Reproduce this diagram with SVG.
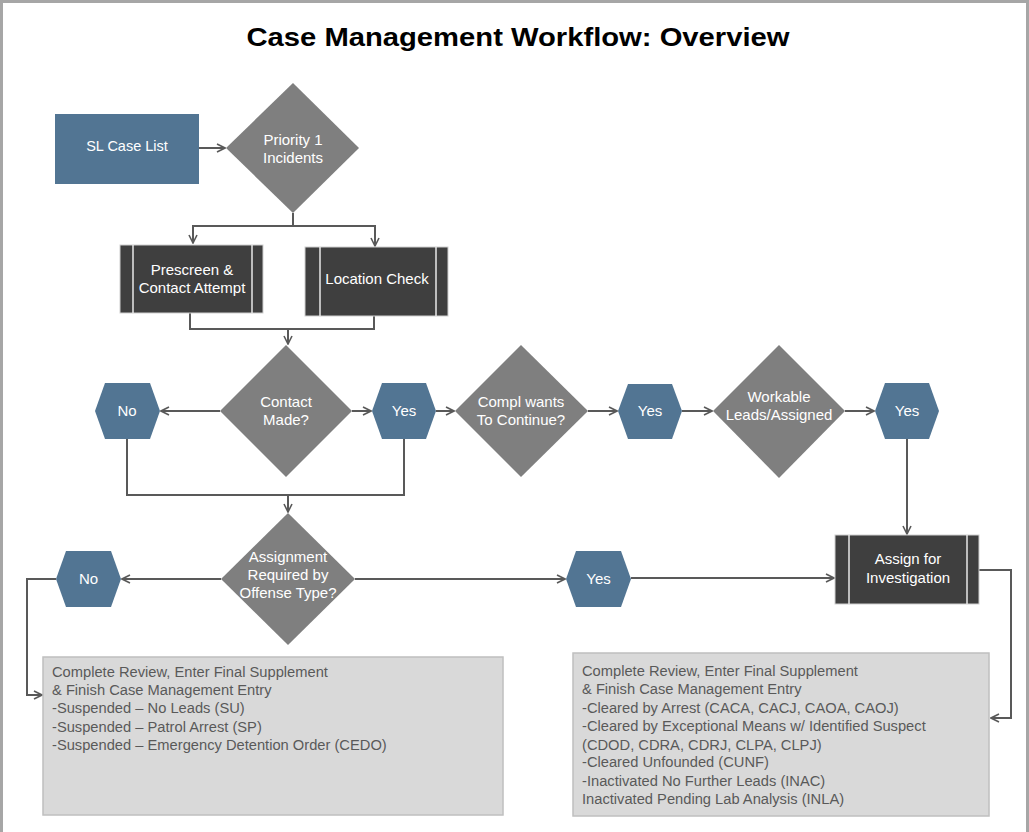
<svg xmlns="http://www.w3.org/2000/svg" width="1029" height="832" viewBox="0 0 1029 832">
<defs>
<marker id="arr" viewBox="0 0 10 10" refX="9" refY="5" markerWidth="10" markerHeight="10" markerUnits="userSpaceOnUse" orient="auto">
<polyline points="1,1 9,5 1,9" fill="none" stroke="#595959" stroke-width="1.6"/>
</marker>
<style>
.t{font-family:"Liberation Sans",Arial,sans-serif;font-size:15px;fill:#ffffff;text-anchor:middle}
.b{font-family:"Liberation Sans",Arial,sans-serif;font-size:14.7px;fill:#595959}
.blue{fill:#527593}
.dia{fill:#7f7f7f}
.sub{fill:#3f3f3f;stroke:#d0d0d0;stroke-width:1}
.sep{stroke:#e8e8e8;stroke-width:1.5}
.box{fill:#d9d9d9;stroke:#bfbfbf;stroke-width:1.5}
.c{fill:none;stroke:#595959;stroke-width:2}
</style>
</defs>
<rect width="1029" height="832" fill="#ffffff"/>
<path d="M1.5,832 V1.5 H1027.5 V832" fill="none" stroke="#a6a6a6" stroke-width="3"/>
<text x="518" y="46" font-family="'Liberation Sans',Arial,sans-serif" font-size="25" font-weight="bold" fill="#000000" text-anchor="middle" textLength="543" lengthAdjust="spacingAndGlyphs">Case Management Workflow: Overview</text>

<g id="connectors">
<line class="c" x1="199" y1="148" x2="225" y2="148" marker-end="url(#arr)"/>
<polyline class="c" points="293,213 293,226"/>
<polyline class="c" points="193,243 193,226 375,226 375,246" marker-end="url(#arr)"/>
<line class="c" x1="193" y1="226" x2="193" y2="243" marker-end="url(#arr)"/>
<polyline class="c" points="190,313 190,329 374,329 374,316"/>
<line class="c" x1="288" y1="329" x2="288" y2="344" marker-end="url(#arr)"/>
<line class="c" x1="220" y1="411" x2="161" y2="411" marker-end="url(#arr)"/>
<line class="c" x1="352" y1="411" x2="371" y2="411" marker-end="url(#arr)"/>
<line class="c" x1="436" y1="411" x2="454" y2="411" marker-end="url(#arr)"/>
<line class="c" x1="588" y1="411" x2="617" y2="411" marker-end="url(#arr)"/>
<line class="c" x1="682" y1="411" x2="712" y2="411" marker-end="url(#arr)"/>
<line class="c" x1="845" y1="411" x2="874" y2="411" marker-end="url(#arr)"/>
<polyline class="c" points="127,439 127,495 404,495 404,439"/>
<line class="c" x1="288" y1="495" x2="288" y2="512" marker-end="url(#arr)"/>
<line class="c" x1="221" y1="579" x2="122" y2="579" marker-end="url(#arr)"/>
<polyline class="c" points="56,579 27,579 27,695 42,695" marker-end="url(#arr)"/>
<line class="c" x1="355" y1="579" x2="565" y2="579" marker-end="url(#arr)"/>
<line class="c" x1="631" y1="578" x2="834" y2="578" marker-end="url(#arr)"/>
<line class="c" x1="907" y1="439" x2="907" y2="534" marker-end="url(#arr)"/>
<polyline class="c" points="979,570 1011,570 1011,718 991,718" marker-end="url(#arr)"/>
</g>

<g id="sl-case-list">
<rect class="blue" x="55" y="114" width="144" height="70"/>
<text class="t" x="127" y="151" style="font-size:14.5px">SL Case List</text>
</g>

<g id="priority1">
<polygon class="dia" points="293,83 359,148 293,213 226,148"/>
<text class="t" x="293" y="145">Priority 1</text>
<text class="t" x="293" y="163">Incidents</text>
</g>

<g id="prescreen">
<rect class="sub" x="120" y="245" width="143" height="68"/>
<line class="sep" x1="133" y1="245" x2="133" y2="313"/>
<line class="sep" x1="252" y1="245" x2="252" y2="313"/>
<text class="t" x="192" y="275">Prescreen &amp;</text>
<text class="t" x="192" y="293">Contact Attempt</text>
</g>

<g id="location-check">
<rect class="sub" x="305" y="247" width="143" height="69"/>
<line class="sep" x1="320" y1="247" x2="320" y2="316"/>
<line class="sep" x1="436" y1="247" x2="436" y2="316"/>
<text class="t" x="377" y="284">Location Check</text>
</g>

<g id="contact-made">
<polygon class="dia" points="286,345 352,411 286,477 220,411"/>
<text class="t" x="286" y="407">Contact</text>
<text class="t" x="286" y="425">Made?</text>
</g>

<g id="no1">
<polygon class="blue" points="95,411 105,383 150,383 160,411 150,439 105,439"/>
<text class="t" x="127" y="416">No</text>
</g>

<g id="yes1">
<polygon class="blue" points="372,411 382,383 426,383 436,411 426,439 382,439"/>
<text class="t" x="404" y="416">Yes</text>
</g>

<g id="compl-wants">
<polygon class="dia" points="521,345 588,411 521,477 455,411"/>
<text class="t" x="521" y="407">Compl wants</text>
<text class="t" x="521" y="425">To Continue?</text>
</g>

<g id="yes2">
<polygon class="blue" points="618,411 628,384 672,384 682,411 672,439 628,439"/>
<text class="t" x="650" y="416">Yes</text>
</g>

<g id="workable-leads">
<polygon class="dia" points="779,345 845,411 779,478 713,411"/>
<text class="t" x="779" y="402">Workable</text>
<text class="t" x="779" y="420">Leads/Assigned</text>
</g>

<g id="yes3">
<polygon class="blue" points="875,411 885,383 929,383 939,411 929,439 885,439"/>
<text class="t" x="907" y="416">Yes</text>
</g>

<g id="assignment-required">
<polygon class="dia" points="288,513 355,579 288,645 221,579"/>
<text class="t" x="288" y="562">Assignment</text>
<text class="t" x="288" y="580">Required by</text>
<text class="t" x="288" y="598">Offense Type?</text>
</g>

<g id="no2">
<polygon class="blue" points="56,579 66,551 111,551 121,579 111,607 66,607"/>
<text class="t" x="88.5" y="584">No</text>
</g>

<g id="yes4">
<polygon class="blue" points="566,579 576,551 621,551 631,579 621,607 576,607"/>
<text class="t" x="598.5" y="584">Yes</text>
</g>

<g id="assign-investigation">
<rect class="sub" x="835" y="535" width="144" height="69"/>
<line class="sep" x1="849" y1="535" x2="849" y2="604"/>
<line class="sep" x1="967" y1="535" x2="967" y2="604"/>
<text class="t" x="908" y="564">Assign for</text>
<text class="t" x="908" y="583">Investigation</text>
</g>

<g id="suspended-box">
<rect class="box" x="43" y="657" width="460" height="158"/>
<text class="b" x="52" y="677">Complete Review, Enter Final Supplement</text>
<text class="b" x="52" y="695">&amp; Finish Case Management Entry</text>
<text class="b" x="52" y="713">-Suspended – No Leads (SU)</text>
<text class="b" x="52" y="732">-Suspended – Patrol Arrest (SP)</text>
<text class="b" x="52" y="750">-Suspended – Emergency Detention Order (CEDO)</text>
</g>

<g id="cleared-box">
<rect class="box" x="573" y="653" width="416" height="163"/>
<text class="b" x="582" y="676">Complete Review, Enter Final Supplement</text>
<text class="b" x="582" y="694">&amp; Finish Case Management Entry</text>
<text class="b" x="582" y="713">-Cleared by Arrest (CACA, CACJ, CAOA, CAOJ)</text>
<text class="b" x="582" y="731">-Cleared by Exceptional Means w/ Identified Suspect</text>
<text class="b" x="582" y="750">(CDOD, CDRA, CDRJ, CLPA, CLPJ)</text>
<text class="b" x="582" y="767">-Cleared Unfounded (CUNF)</text>
<text class="b" x="582" y="786">-Inactivated No Further Leads (INAC)</text>
<text class="b" x="582" y="804">Inactivated Pending Lab Analysis (INLA)</text>
</g>
</svg>
